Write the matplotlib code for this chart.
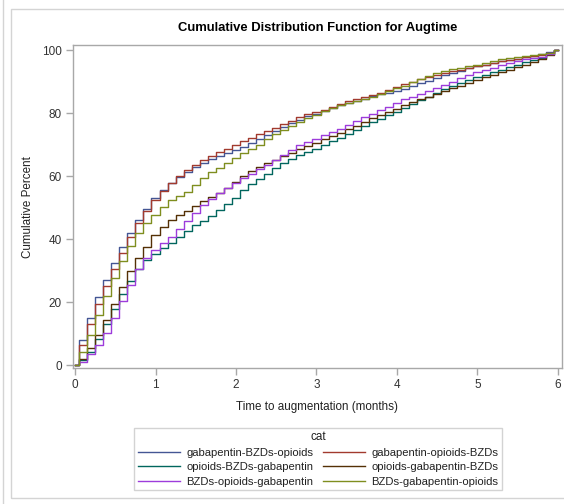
import matplotlib
matplotlib.use("Agg")
import matplotlib.pyplot as plt
from matplotlib.lines import Line2D
from matplotlib.patches import Rectangle

# ---------------- data ----------------
months = [round(i * 0.1, 1) for i in range(61)]

gaba_bzd_opi = [0, 8, 15, 21.5, 27, 32.3, 37.5, 42, 46, 49.5,
                52.9, 55.5, 57.7, 59.6, 61.3, 62.8, 64.2, 65.4, 66.4, 67.3,
                68.2, 69.3, 70.5, 71.8, 73.1, 74.4, 75.6, 76.7, 77.8, 78.9,
                79.8, 80.7, 81.6, 82.5, 83.2, 83.9, 84.6, 85.3, 85.9, 86.5,
                87.1, 87.7, 88.5, 89.4, 90.3, 91.2, 92.0, 92.8, 93.5, 94.2,
                94.8, 95.4, 95.9, 96.4, 96.9, 97.3, 97.7, 98.1, 98.6, 99.3, 100]
gaba_opi_bzd = [0, 6.5, 13, 19.5, 25, 30.5, 35.5, 40.5, 45, 48.8,
                52.4, 55.2, 57.7, 60.0, 61.8, 63.6, 65.2, 66.4, 67.5, 68.6,
                70.0, 71.1, 72.1, 73.2, 74.3, 75.4, 76.5, 77.6, 78.8, 79.6,
                80.3, 81.0, 82.0, 83.0, 83.7, 84.3, 85.0, 85.6, 86.5, 87.4,
                88.3, 89.2, 90.0, 90.7, 91.4, 92.2, 92.8, 93.3, 93.8, 94.3,
                94.9, 95.4, 95.9, 96.4, 96.9, 97.3, 97.7, 98.0, 98.4, 99.1, 100]
opi_bzd_gaba = [0, 1.5, 4, 8.3, 13, 17.8, 22.6, 26.7, 30.5, 33.2,
                35.4, 37.0, 38.6, 40.6, 42.7, 44.3, 45.7, 47.4, 49.2, 51.0,
                53.0, 55.6, 57.4, 59.0, 60.8, 62.5, 64.0, 65.3, 66.6, 67.6,
                68.6, 69.8, 71.0, 72.2, 73.4, 74.6, 75.8, 77.0, 78.2, 79.3,
                80.3, 81.5, 82.8, 84.0, 85.2, 86.4, 87.5, 88.5, 89.5, 90.4,
                91.3, 92.2, 93.0, 93.8, 94.6, 95.4, 96.2, 96.9, 97.6, 98.6, 100]
opi_gaba_bzd = [0, 2, 5.3, 9.5, 14.3, 19.5, 24.8, 29.7, 34, 37.6,
                41.3, 43.8, 46.0, 47.6, 49.0, 50.6, 52.1, 53.4, 54.6, 56.2,
                58.2, 60.0, 61.6, 62.9, 64.1, 65.2, 66.3, 67.4, 68.5, 69.5,
                70.5, 71.6, 72.6, 73.6, 74.8, 76.0, 77.2, 78.4, 79.4, 80.4,
                81.4, 82.5, 83.5, 84.4, 85.2, 86.0, 86.9, 87.8, 88.7, 89.6,
                90.5, 91.3, 92.1, 92.9, 93.7, 94.5, 95.3, 96.1, 97.0, 98.3, 100]
bzd_opi_gaba = [0, 1, 3.5, 6.2, 10.3, 15, 20.3, 25.5, 30.5, 34,
                36.5, 38.7, 40.7, 43.3, 45.8, 48.3, 50.8, 52.8, 54.5, 56.2,
                57.8, 59.3, 60.8, 62.2, 63.5, 65.0, 66.6, 68.2, 69.7, 70.9,
                71.9, 72.9, 74.0, 75.0, 76.2, 77.4, 78.6, 79.8, 80.9, 82.0,
                83.1, 84.4, 85.2, 86.1, 87.0, 88.0, 89.0, 90.0, 91.0, 92.0,
                92.9, 93.7, 94.4, 95.2, 95.9, 96.5, 97.0, 97.5, 97.9, 98.8, 100]
bzd_gaba_opi = [0, 4, 9.5, 16, 21.8, 27.5, 33, 37.8, 42, 45,
                47.6, 50.2, 52.4, 53.8, 55.0, 57.3, 59.5, 61.2, 62.6, 64.0,
                65.6, 67.3, 68.5, 70.0, 71.6, 73.2, 74.7, 76.0, 77.2, 78.4,
                79.5, 80.6, 81.7, 82.6, 83.3, 83.9, 84.5, 85.1, 86.0, 86.9,
                87.8, 88.7, 89.7, 90.8, 91.9, 92.8, 93.4, 93.9, 94.4, 94.9,
                95.4, 95.9, 96.5, 97.0, 97.5, 97.8, 98.0, 98.3, 98.6, 99.2, 100]

categories = ["gabapentin-BZDs-opioids", "gabapentin-opioids-BZDs",
              "opioids-BZDs-gabapentin", "opioids-gabapentin-BZDs",
              "BZDs-opioids-gabapentin", "BZDs-gabapentin-opioids"]
series = [gaba_bzd_opi, gaba_opi_bzd, opi_bzd_gaba, opi_gaba_bzd,
          bzd_opi_gaba, bzd_gaba_opi]
colors = ["#445694", "#A23A2E", "#01665E", "#543005", "#9D3CDB", "#7F8E1F"]

x_ticks = [0, 1, 2, 3, 4, 5, 6]
y_ticks = [0, 20, 40, 60, 80, 100]

plt.rcParams["font.family"] = ["Liberation Sans", "DejaVu Sans"]

W, H = 564, 504
fig = plt.figure(figsize=(W / 100, H / 100), dpi=100)

def fx(px):
    return px / W

def fy(py):
    return 1 - py / H

# outer frame lines (screenshot chrome)
fig.add_artist(Line2D([fx(2.5), fx(2.5)], [0, 1], color="#d4d4d4", lw=1))
fig.add_artist(Rectangle((fx(10.5), fy(497.5)), 1.0, fy(8.5) - fy(497.5),
                         fill=False, edgecolor="#d4d4d4", lw=1))

ax = fig.add_axes([fx(73), fy(368), fx(562) - fx(73), fy(45) - fy(368)])

for vals, c in zip(series, colors):
    ax.step(months, vals, where="mid", color=c, lw=1.0)

ax.set_xlim(-0.025, 6.05)
ax.set_ylim(-0.95, 101.6)
ax.set_xticks(x_ticks)
ax.set_yticks(y_ticks)
ax.set_xticklabels([str(v) for v in x_ticks])
ax.set_yticklabels([str(v) for v in y_ticks])

spine_c = "#a8a8a8"
for s in ax.spines.values():
    s.set_color(spine_c)
    s.set_linewidth(1)
ax.tick_params(axis="both", colors=spine_c, labelcolor="#333333",
               labelsize=8.5, length=5, width=1, direction="out", pad=3)

fig.text(fx(317), fy(407), "Time to augmentation (months)", fontsize=8.4,
         color="#222222", ha="center", va="center")
fig.text(fx(28), fy(207), "Cumulative Percent", fontsize=8.4,
         color="#222222", ha="center", va="center", rotation=90)
fig.text(fx(317.5), fy(28), "Cumulative Distribution Function for Augtime",
         ha="center", va="center", fontsize=9.4, fontweight="bold",
         color="#000000")

# legend: row-major order in two columns
handles = [Line2D([], [], color=c, lw=1.0) for c in colors]
order = [0, 2, 4, 1, 3, 5]
leg = fig.legend([handles[i] for i in order], [categories[i] for i in order],
                 title="cat", ncol=2, loc="upper center",
                 bbox_to_anchor=(fx(318), fy(428)), fontsize=8.1,
                 title_fontsize=8.4, frameon=True, fancybox=False,
                 edgecolor="#c8c8c8", handlelength=3.8, handletextpad=0.55,
                 columnspacing=0.8, labelspacing=0.4, borderpad=0.3,
                 borderaxespad=0)
leg.get_frame().set_linewidth(1)
leg.get_title().set_color("#222222")
for t in leg.get_texts():
    t.set_color("#222222")

fig.savefig("out.png", dpi=100)
